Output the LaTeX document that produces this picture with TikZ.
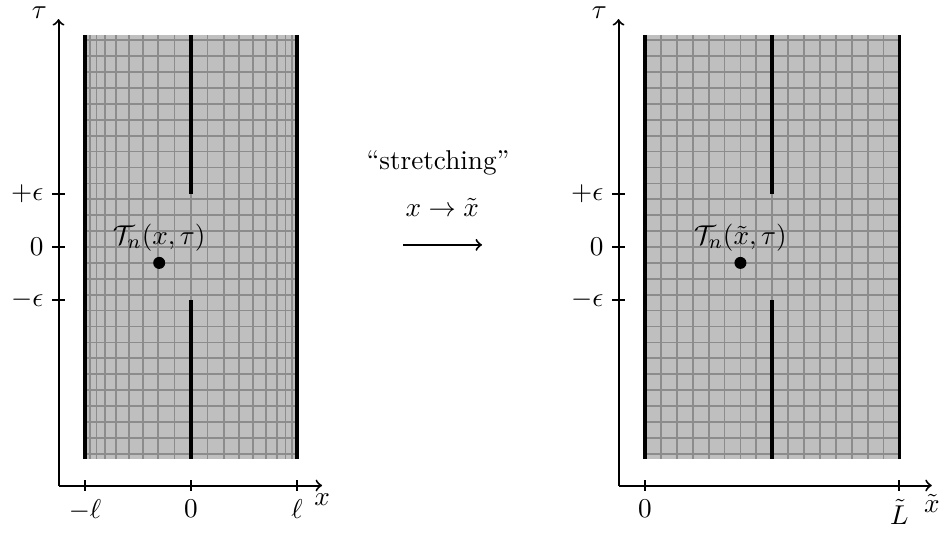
\documentclass[tikz,border=0pt]{standalone}
\usepackage{amsmath}
\begin{document}
\begin{tikzpicture}[x=1.5cm,y=1.5cm,
  font=\fontsize{10.95}{13.6}\selectfont,
  gridline/.style={draw=black!45, line width=0.7pt},
  edgeline/.style={line width=1.5pt},
  axisline/.style={line width=0.8pt,->},
  tickline/.style={line width=0.8pt},
  dotmark/.style={circle,fill=black,inner sep=0pt,minimum size=0.17cm}]
\useasboundingbox (-1.802,-2.717) rectangle (7.075,2.330);

% ---------- left panel ----------
\fill[gray!50] (-1,-2) rectangle (1,2);
\foreach \k in {-8,...,8} \draw[gridline] ({sin(\k*9)},-2) -- ({sin(\k*9)},2);
\foreach \k in {-13,...,13} \draw[gridline] (-1,{0.15*\k}) -- (1,{0.15*\k});
\draw[edgeline] (-1,-2) -- (-1,2);
\draw[edgeline] (1,-2) -- (1,2);
\draw[edgeline] (0,0.5) -- (0,2);
\draw[edgeline] (0,-0.5) -- (0,-2);
\node[dotmark,label={[label distance=-1.5pt]above:{$\mathcal{T}_n(x,\tau)$}}] (dotL) at (-0.3,-0.15) {};
\coordinate (OL) at (-1.25,-2.25);
\coordinate (XL) at (1.236,-2.25);
\coordinate (TL) at (-1.25,2.15);
\draw[axisline] (OL) -- (XL);
\draw[axisline] (OL) -- (TL);
\node[below] (xlab) at (XL) {$x$};
\node (taulab) at (-1.43,2.21) {$\tau$};
\foreach \x/\t [count=\i] in {-1/{-\ell},0/0,1/{\ell}} {
  \draw[tickline] (\x,-2.2) -- (\x,-2.3);
  \node[below] (xt\i) at (\x,-2.3) {$\t$};
}
\foreach \y/\t [count=\i] in {0.5/{+\epsilon},0/0,-0.5/{-\epsilon}} {
  \draw[tickline] (-1.31,\y) -- (-1.19,\y);
  \node[left] (yt\i) at (-1.31,\y) {$\t$};
}

% ---------- middle ----------
\node (stretch) at (2.33,0.79) {``stretching''};
\node (maplab) at (2.37,0.37) {$x\to\tilde{x}$};
\coordinate (arL) at (2.0,0.02);
\coordinate (arR) at (2.745,0.02);
\draw[line width=0.8pt,->] (arL) -- (arR);

% ---------- right panel ----------
\begin{scope}[shift={(4.283,0)}]
\fill[gray!50] (0,-2) rectangle (2.4,2);
\foreach \k in {1,...,15} \draw[gridline] ({0.15*\k},-2) -- ({0.15*\k},2);
\foreach \k in {-13,...,13} \draw[gridline] (0,{0.15*\k}) -- (2.4,{0.15*\k});
\draw[edgeline] (0,-2) -- (0,2);
\draw[edgeline] (2.4,-2) -- (2.4,2);
\draw[edgeline] (1.2,0.5) -- (1.2,2);
\draw[edgeline] (1.2,-0.5) -- (1.2,-2);
\node[dotmark,label={[label distance=-1.5pt]above:{$\mathcal{T}_n(\tilde{x},\tau)$}}] (dotR) at (0.9,-0.15) {};
\coordinate (OR) at (-0.25,-2.25);
\coordinate (XR) at (2.705,-2.25);
\coordinate (TR) at (-0.25,2.15);
\draw[axisline] (OR) -- (XR);
\draw[axisline] (OR) -- (TR);
\node[below] (xtlab) at (XR) {$\tilde{x}$};
\node (taulabR) at (-0.43,2.21) {$\tau$};
\foreach \x/\t [count=\i] in {0/0,2.4/{\tilde{L}}} {
  \draw[tickline] (\x,-2.2) -- (\x,-2.3);
  \node[below] (xr\i) at (\x,-2.3) {$\t$};
}
\foreach \y/\t [count=\i] in {0.5/{+\epsilon},0/0,-0.5/{-\epsilon}} {
  \draw[tickline] (-0.31,\y) -- (-0.19,\y);
  \node[left] (yr\i) at (-0.31,\y) {$\t$};
}
\end{scope}
\end{tikzpicture}
\end{document}
